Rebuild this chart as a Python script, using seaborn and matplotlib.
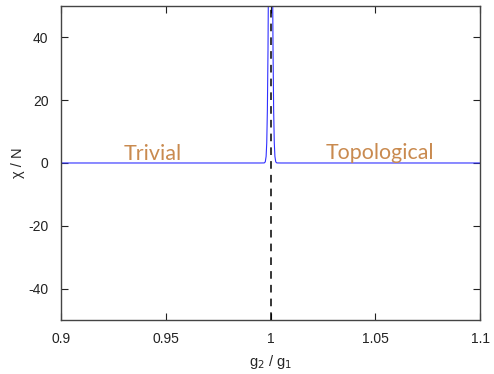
import numpy as np
import pandas as pd
import seaborn as sns
import matplotlib.pyplot as plt

# Susceptibilidade (pico estreito em g2/g1 = 1)
razao_g = [0.9, 0.995, 0.997, 0.9975, 0.9979, 0.9982, 0.9985, 0.9988, 0.9991, 0.9994, 0.9997, 1.0,
           1.0003, 1.0006, 1.0009, 1.0012, 1.0015, 1.0018, 1.0021, 1.0025, 1.003, 1.005, 1.1]
chi_n = [0.0, 0.0, 0.02, 0.35, 2.1, 6.4, 16.7, 36.0, 67.0, 103.0, 134.0, 146.0,
         134.0, 103.0, 67.0, 36.0, 16.7, 6.4, 2.1, 0.35, 0.02, 0.0, 0.0]

x_ticks = [0.9, 0.95, 1.0, 1.05, 1.1]
x_labels = ['0.9', '0.95', '1', '1.05', '1.1']
y_ticks = [-40, -20, 0, 20, 40]

df = pd.DataFrame({'g': razao_g, 'chi': chi_n})

sns.set_style('ticks')
plt.rcParams['font.family'] = ['Liberation Sans', 'DejaVu Sans']
plt.rcParams['axes.unicode_minus'] = False

fig = plt.figure(figsize=(4.94, 3.74), dpi=100)
ax = fig.add_axes([0.1235, 0.1444, 0.8482, 0.8396])

sns.lineplot(data=df, x='g', y='chi', ax=ax, color='#3030ff', linewidth=0.8)
ax.axvline(1.0, color='black', linestyle=(0, (5, 4)), linewidth=1.1, zorder=3)

ax.set_xlim(0.9, 1.1)
ax.set_ylim(-50, 50)
ax.set_xticks(x_ticks)
ax.set_xticklabels(x_labels)
ax.set_yticks(y_ticks)
ax.tick_params(direction='in', length=5, width=0.8, top=True, right=True,
               labelsize=10, colors='#222222', pad=9)
for s in ax.spines.values():
    s.set_visible(True)
    s.set_color('#444444')
    s.set_linewidth(1.0)

ax.set_xlabel('g$_2$ / g$_1$', fontsize=10.5, labelpad=5)
ax.set_ylabel('χ / N', fontsize=10.5, labelpad=2)

ax.text(0.9439, 2.8, 'Trivial', color='#c98a4f', fontsize=15.5, family=['Lato', 'DejaVu Sans'],
        ha='center', va='center')
ax.text(1.0523, 3.1, 'Topological', color='#c98a4f', fontsize=15.4, family=['Lato', 'DejaVu Sans'],
        ha='center', va='center')

fig.savefig('out.png', dpi=100)
